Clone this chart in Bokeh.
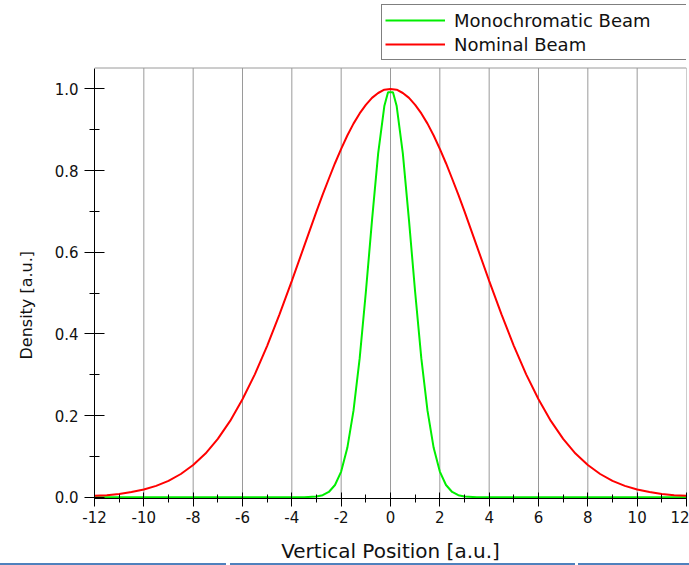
from bokeh.plotting import figure
from bokeh.models import (Legend, LegendItem, SingleIntervalTicker, Range1d, Div, Title,
                          PrintfTickFormatter, Span)
from bokeh.layouts import column
from bokeh.embed import file_html
from bokeh.resources import INLINE

# ---- data ----
nominal_x = [-12, -11.5, -11, -10.5, -10, -9.5, -9, -8.5, -8, -7.5, -7, -6.5, -6, -5.5, -5, -4.5,
             -4, -3.5, -3, -2.75, -2.5, -2.25, -2, -1.75, -1.5, -1.25, -1, -0.75, -0.5, -0.25,
             0, 0.25, 0.5, 0.75, 1, 1.25, 1.5, 1.75, 2, 2.25, 2.5, 2.75, 3, 3.5, 4, 4.5,
             5, 5.5, 6, 6.5, 7, 7.5, 8, 8.5, 9, 9.5, 10, 10.5, 11, 11.5, 12]
nominal_y = [0.004, 0.005, 0.008, 0.013, 0.019, 0.028, 0.040, 0.057, 0.079, 0.107, 0.143, 0.187,
             0.240, 0.301, 0.371, 0.448, 0.530, 0.615, 0.700, 0.741, 0.780, 0.818, 0.853, 0.886,
             0.915, 0.940, 0.961, 0.978, 0.990, 0.998,
             1.000, 0.998, 0.990, 0.978, 0.961, 0.940, 0.915, 0.886, 0.853, 0.818, 0.780, 0.741,
             0.700, 0.615, 0.530, 0.448, 0.371, 0.301,
             0.240, 0.187, 0.143, 0.107, 0.079, 0.057, 0.040, 0.028, 0.019, 0.013, 0.008, 0.005, 0.004]

mono_x = [-12, -3.5, -3, -2.75, -2.5, -2.25, -2, -1.75, -1.5, -1.25, -1, -0.75, -0.5, -0.25, -0.1,
          0.1, 0.25, 0.5, 0.75, 1, 1.25, 1.5, 1.75, 2, 2.25, 2.5, 2.75, 3, 3.5, 12]
mono_y = [0.0, 0.0, 0.002, 0.005, 0.013, 0.030, 0.063, 0.121, 0.212, 0.340, 0.502, 0.678, 0.842,
          0.958, 0.992, 0.992, 0.958, 0.842, 0.678, 0.502, 0.340, 0.212, 0.121, 0.063, 0.030,
          0.013, 0.005, 0.002, 0.0, 0.0]

x_ticks = [-12, -10, -8, -6, -4, -2, 0, 2, 4, 6, 8, 10, 12]
series_labels = ["Monochromatic Beam", "Nominal Beam"]
x_title = "Vertical Position [a.u.]"
y_title = "Density [a.u.]"

FONT = "DejaVu Sans"
TXT = "#111111"
GRID = "#9a9a9a"
Y_LOW = -0.003        # axis line sits one pixel below zero
Y_TOP = 1.0512        # top of the drawn plot box
Y_VIEW = 1.2165       # extra room above the box for the legend

p = figure(width=689, height=565, output_backend="svg", toolbar_location=None,
           x_range=Range1d(-12, 12), y_range=Range1d(Y_LOW, Y_VIEW),
           min_border_left=91, min_border_right=3, min_border_top=0, min_border_bottom=65)
p.background_fill_color = "white"
p.border_fill_color = "white"
p.outline_line_color = None
p.xgrid.visible = False
p.ygrid.visible = False

# plot box: vertical grid lines (incl. right edge) and top edge
grid_x = [t for t in x_ticks if t > x_ticks[0]]
p.segment(x0=grid_x, y0=[Y_LOW] * len(grid_x), x1=grid_x, y1=[Y_TOP] * len(grid_x),
          line_color=GRID, line_width=1)
p.add_layout(Span(location=Y_TOP, dimension="width", line_color=GRID, line_width=1))

g = p.line(mono_x, mono_y, line_color="#00ee00", line_width=2)
r = p.line(nominal_x, nominal_y, line_color="#ff0000", line_width=2)

# axes
p.xaxis.ticker = SingleIntervalTicker(interval=2, num_minor_ticks=2)
p.yaxis.ticker = SingleIntervalTicker(interval=0.2, num_minor_ticks=2)
p.xaxis.formatter = PrintfTickFormatter(format="%d")
p.yaxis.formatter = PrintfTickFormatter(format="%.1f")
p.yaxis.bounds = (Y_LOW, Y_TOP)

for ax in (p.xaxis[0], p.yaxis[0]):
    ax.axis_line_color = "black"
    ax.major_tick_line_color = "black"
    ax.minor_tick_line_color = "black"
    ax.major_label_text_font = FONT
    ax.major_label_text_font_size = "15px"
    ax.major_label_text_color = TXT
    ax.axis_label_text_font = FONT
    ax.axis_label_text_font_style = "normal"
    ax.axis_label_text_color = TXT

p.xaxis.major_tick_in = 6
p.xaxis.major_tick_out = 8
p.xaxis.minor_tick_in = 4
p.xaxis.minor_tick_out = 4
p.xaxis.major_label_standoff = 4
p.xaxis.axis_label = x_title
p.xaxis.axis_label_text_font_size = "20px"
p.xaxis.axis_label_standoff = 13

p.yaxis.major_tick_in = 10
p.yaxis.major_tick_out = 10
p.yaxis.minor_tick_in = 5
p.yaxis.minor_tick_out = 5
p.yaxis.major_label_standoff = 6

ytitle = Title(text=y_title, align="left", offset=139, vertical_align="middle",
               standoff=30, text_font=FONT, text_font_size="16px",
               text_font_style="normal", text_color=TXT)
p.add_layout(ytitle, "left")

legend = Legend(items=[LegendItem(label=series_labels[0], renderers=[g]),
                       LegendItem(label=series_labels[1], renderers=[r])],
                location=(287, 438))
legend.border_line_color = "black"
legend.border_line_width = 1
legend.background_fill_color = "white"
legend.background_fill_alpha = 1
legend.padding = 3
legend.spacing = 0
legend.margin = 0
legend.glyph_width = 60
legend.glyph_height = 24
legend.label_height = 24
legend.label_standoff = 9
legend.label_width = 232
legend.label_text_font = FONT
legend.label_text_font_size = "18px"
legend.label_text_color = TXT
p.add_layout(legend)

bar = Div(text=(
    '<div style="position:relative;width:689px;height:3px;">'
    '<div style="position:absolute;left:0;top:0;width:226px;height:3px;background:#4f81bd"></div>'
    '<div style="position:absolute;left:230px;top:0;width:345px;height:3px;background:#4f81bd"></div>'
    '<div style="position:absolute;left:578px;top:0;width:111px;height:3px;background:#4f81bd"></div>'
    '</div>'), width=689, height=3, margin=(-11, 0, 0, 0))

layout = column(p, bar, spacing=0)
open("out.html", "w").write(file_html(layout, INLINE))
